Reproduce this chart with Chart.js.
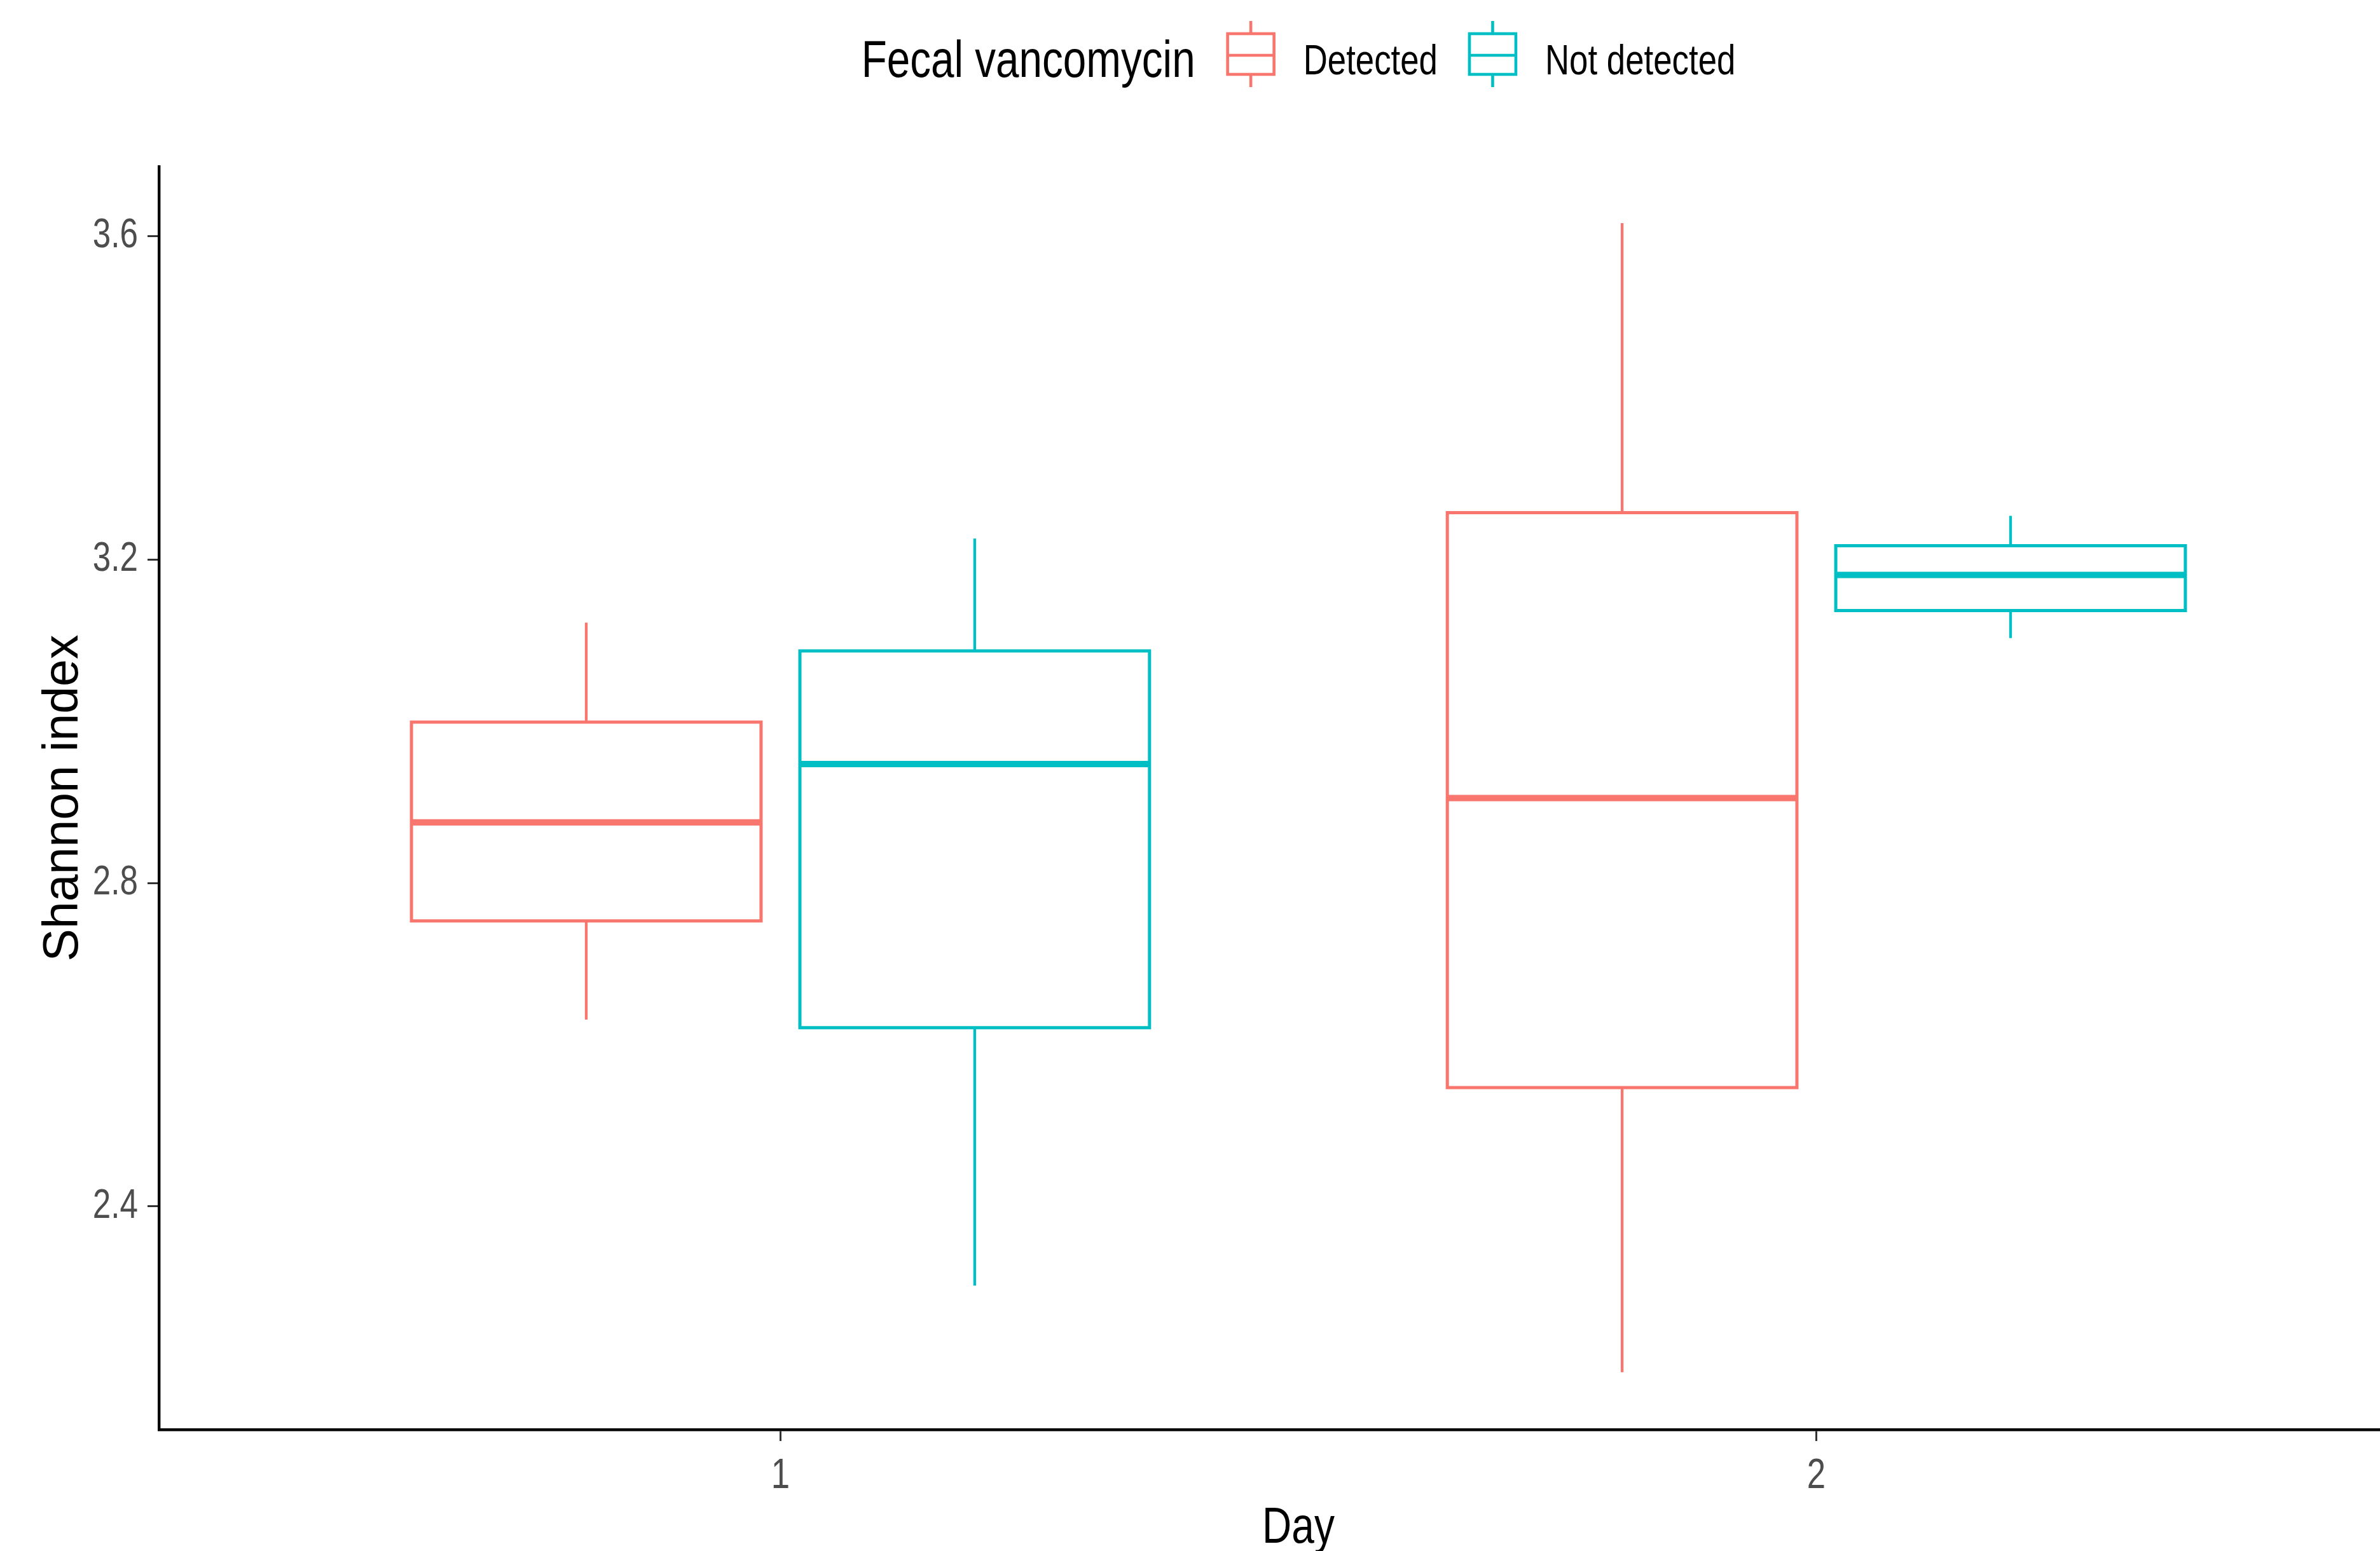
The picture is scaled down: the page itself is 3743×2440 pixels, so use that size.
<!DOCTYPE html>
<html>
<head>
<meta charset="utf-8">
<script src="https://cdn.jsdelivr.net/npm/chart.js@4.4.1/dist/chart.umd.min.js"></script>
<style>
html,body{margin:0;padding:0;overflow:hidden;background:#ffffff;}
#wrap{position:relative;width:3834px;height:2440px;}
</style>
</head>
<body>
<div id="wrap"><canvas id="c"></canvas></div>
<script>
// ---------------- data ----------------
const days = [1, 2];
const xTickLabels = ['1', '2'];
const yTicks = [2.4, 2.8, 3.2, 3.6];
const legendTitle = 'Fecal vancomycin';
const seriesNames = ['Detected', 'Not detected'];
const seriesColors = ['#F8766D', '#00BFC4'];

const detectedMin    = [2.631, 2.195];
const detectedQ1     = [2.753, 2.547];
const detectedMedian = [2.875, 2.905];
const detectedQ3     = [2.999, 3.258];
const detectedMax    = [3.122, 3.616];

const notDetectedMin    = [2.302, 3.103];
const notDetectedQ1     = [2.621, 3.137];
const notDetectedMedian = [2.947, 3.181];
const notDetectedQ3     = [3.087, 3.217];
const notDetectedMax    = [3.226, 3.254];

// ---------------- fonts ----------------
const FAM = "'Liberation Sans', Arial, sans-serif";
const NARROW_X = 0.8; // horizontal squeeze for upright text (Arial Narrow look)

// ---------------- build box plot datasets ----------------
const stats = [
  {min: detectedMin, q1: detectedQ1, med: detectedMedian, q3: detectedQ3, max: detectedMax},
  {min: notDetectedMin, q1: notDetectedQ1, med: notDetectedMedian, q3: notDetectedQ3, max: notDetectedMax}
];
const DODGE = 0.75;
const BOXW = 0.9 * DODGE / 2;

const datasets = [];
stats.forEach((s, g) => {
  const off = (g - 0.5) * DODGE / 2;
  const boxPts = [], medPts = [], whPts = [];
  days.forEach((d, i) => {
    const c = d + off, l = c - BOXW / 2, r = c + BOXW / 2;
    boxPts.push({x:l,y:s.q1[i]},{x:r,y:s.q1[i]},{x:r,y:s.q3[i]},{x:l,y:s.q3[i]},{x:l,y:s.q1[i]},{x:c,y:null});
    medPts.push({x:l,y:s.med[i]},{x:r,y:s.med[i]},{x:c,y:null});
    whPts.push({x:c,y:s.q3[i]},{x:c,y:s.max[i]},{x:c,y:null},{x:c,y:s.q1[i]},{x:c,y:s.min[i]},{x:c,y:null});
  });
  const base = {showLine:true, pointRadius:0, pointHoverRadius:0, fill:false, spanGaps:false,
                tension:0, borderColor:seriesColors[g], backgroundColor:seriesColors[g]};
  datasets.push(Object.assign({}, base, {label:seriesNames[g]+' whisker', data:whPts, borderWidth:4.3, borderCapStyle:'butt', order:3}));
  datasets.push(Object.assign({}, base, {label:seriesNames[g]+' box', data:boxPts, borderWidth:5, borderJoinStyle:'miter', borderCapStyle:'square', order:2}));
  datasets.push(Object.assign({}, base, {label:seriesNames[g]+' median', data:medPts, borderWidth:10, borderCapStyle:'butt', order:1}));
});

// ---------------- narrow text + legend plugin ----------------
const ggLegend = {
  id: 'ggLegend',
  beforeDraw(chart){
    const ctx = chart.ctx;
    if (ctx._origFillText) return;
    const orig = ctx.fillText;
    ctx._origFillText = orig;
    ctx.fillText = function(text, x, y, maxWidth){
      const m = this.getTransform();
      if (Math.abs(m.b) > 1e-6 || Math.abs(m.c) > 1e-6) {
        return maxWidth === undefined ? orig.call(this, text, x, y) : orig.call(this, text, x, y, maxWidth);
      }
      this.save();
      this.translate(x, y);
      this.scale(NARROW_X, 1);
      if (maxWidth === undefined) orig.call(this, text, 0, 0);
      else orig.call(this, text, 0, 0, maxWidth / NARROW_X);
      this.restore();
    };
  },
  afterDraw(chart){
    const ctx = chart.ctx;
    const cx = chart.scales.x.getPixelForValue(1.5);
    ctx.save();
    const titleFont = "82px " + FAM;
    const labFont = "66px " + FAM;
    ctx.font = titleFont; const tw = ctx.measureText(legendTitle).width * NARROW_X;
    ctx.font = labFont; const lw = seriesNames.map(n => ctx.measureText(n).width * NARROW_X);
    const keyW = 77, gapTK = 49, gapKL = 44, gapLK = 48;
    const total = tw + gapTK + (keyW + gapKL) * 2 + lw[0] + gapLK + lw[1];
    let x = cx - total / 2;
    ctx.fillStyle = '#000000';
    ctx.textBaseline = 'alphabetic';
    ctx.textAlign = 'left';
    ctx.font = titleFont;
    ctx.fillText(legendTitle, x, 121);
    x += tw + gapTK;
    const yc = 85;
    seriesNames.forEach((n, g) => {
      ctx.strokeStyle = seriesColors[g];
      ctx.lineWidth = 4.6;
      ctx.lineJoin = 'miter';
      const kc = x + keyW / 2;
      ctx.beginPath();
      ctx.moveTo(kc, yc - 52); ctx.lineTo(kc, yc - 32);
      ctx.moveTo(kc, yc + 32); ctx.lineTo(kc, yc + 52);
      ctx.stroke();
      ctx.strokeRect(x + 2, yc - 32, keyW - 4, 64);
      ctx.beginPath();
      ctx.moveTo(x + 2, yc + 2); ctx.lineTo(x + keyW - 2, yc + 2);
      ctx.stroke();
      x += keyW + gapKL;
      ctx.font = labFont;
      ctx.fillStyle = '#000000';
      ctx.fillText(n, x, 117);
      x += lw[g] + gapLK;
    });
    ctx.restore();
    if (ctx._origFillText) { ctx.fillText = ctx._origFillText; delete ctx._origFillText; }
  }
};

// ---------------- chart ----------------
const tickGrid = {display:true, drawOnChartArea:false, drawTicks:true, tickLength:18, tickColor:'#333333', tickWidth:3};
new Chart(document.getElementById('c'), {
  type: 'scatter',
  data: {datasets},
  plugins: [ggLegend],
  options: {
    responsive: true,
    maintainAspectRatio: false,
    animation: false,
    layout: {padding: {top: 262, left: 0, right: 0, bottom: 0}},
    plugins: {legend: {display: false}, tooltip: {enabled: false}},
    scales: {
      x: {
        type: 'linear', min: 0.4, max: 2.6,
        afterBuildTicks: s => { s.ticks = days.map(v => ({value: v})); },
        afterFit: s => { s.height = 191; },
        ticks: {callback: (v, i) => xTickLabels[i], color: '#4D4D4D', font: {family: FAM, size: 66}, padding: 16, maxRotation: 0, autoSkip: false},
        grid: tickGrid,
        border: {display: true, color: '#000000', width: 4.4},
        title: {display: true, text: 'Day', color: '#000000', font: {family: FAM, size: 80, lineHeight: 0.8}, padding: {top: 0, bottom: 3}}
      },
      y: {
        type: 'linear', min: 2.124, max: 3.686,
        afterBuildTicks: s => { s.ticks = yTicks.map(v => ({value: v})); },
        afterFit: s => { s.width = 250; },
        ticks: {callback: v => Number(v).toFixed(1), color: '#4D4D4D', font: {family: FAM, size: 64}, padding: 15, autoSkip: false},
        grid: tickGrid,
        border: {display: true, color: '#000000', width: 4.4},
        title: {display: true, text: 'Shannon index', color: '#000000', font: {family: FAM, size: 77, lineHeight: 1}, padding: {top: 62, bottom: 0}}
      }
    }
  }
});
</script>
</body>
</html>
